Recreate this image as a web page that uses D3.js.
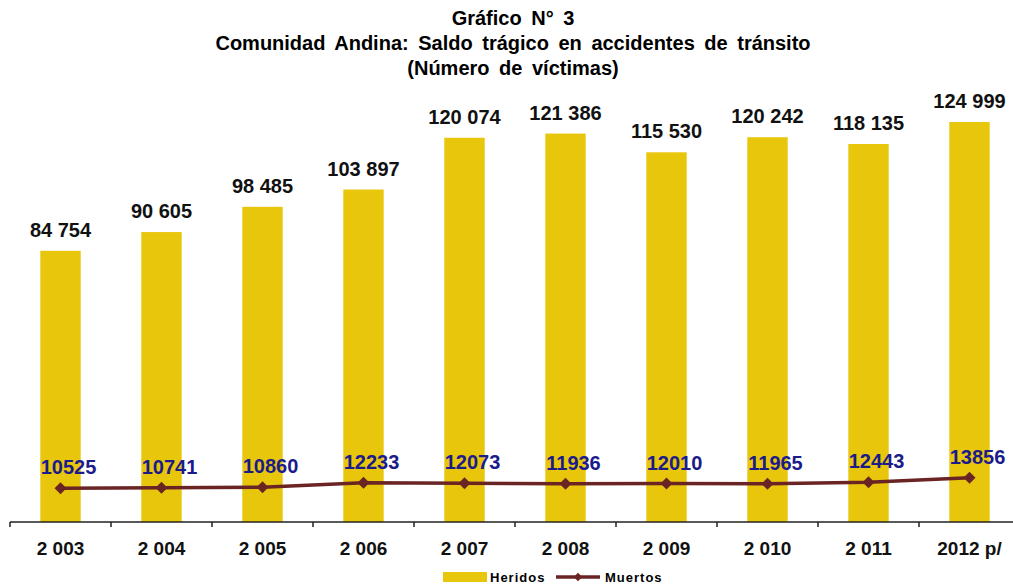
<!DOCTYPE html>
<html>
<head>
<meta charset="utf-8">
<script src="https://cdn.jsdelivr.net/npm/d3@7"></script>
<style>
  body { margin: 0; background: #fff; }
  svg { font-family: Arial, "Liberation Sans", sans-serif; }
</style>
</head>
<body>
<div id="chart"></div>
<script>
// Datos del gráfico
const anios = ['2 003', '2 004', '2 005', '2 006', '2 007', '2 008', '2 009', '2 010', '2 011', '2012 p/'];
const heridos = [84754, 90605, 98485, 103897, 120074, 121386, 115530, 120242, 118135, 124999];
const muertos = [10525, 10741, 10860, 12233, 12073, 11936, 12010, 11965, 12443, 13856];
const titulo = ['Gráfico N° 3', 'Comunidad Andina: Saldo trágico en accidentes de tránsito', '(Número de víctimas)'];

const width = 1013, height = 585;
const colorBarra = '#E8C60C';
const colorLinea = '#6A2424';
const colorMuertos = '#1B1B8A';

const svg = d3.select('#chart').append('svg')
    .attr('width', width)
    .attr('height', height);

// Escalas
const x = d3.scaleBand()
    .domain(anios)
    .range([10, 1020])
    .padding(0);

const y = d3.scaleLinear()
    .domain([0, 140000])
    .range([522, 74]);

const fmt = d3.formatLocale({ decimal: ',', thousands: ' ', grouping: [3], currency: ['', ''] }).format(',d');

// Título
svg.append('g').selectAll('text')
    .data(titulo)
    .enter().append('text')
    .attr('x', 513)
    .attr('y', (d, i) => 25 + i * 25)
    .attr('text-anchor', 'middle')
    .attr('font-size', '20px')
    .attr('font-weight', 'bold')
    .attr('word-spacing', '4px')
    .text(d => d);

// Barras (Heridos)
const bw = x.bandwidth() * 0.4;
svg.append('g').selectAll('rect')
    .data(heridos)
    .enter().append('rect')
    .attr('x', (d, i) => x(anios[i]) + x.bandwidth() / 2 - bw / 2)
    .attr('y', d => y(d))
    .attr('width', bw)
    .attr('height', d => y(0) - y(d))
    .attr('fill', colorBarra);

svg.append('g').selectAll('text')
    .data(heridos)
    .enter().append('text')
    .attr('x', (d, i) => x(anios[i]) + x.bandwidth() / 2)
    .attr('y', d => y(d) - 14)
    .attr('text-anchor', 'middle')
    .attr('font-size', '20px')
    .attr('font-weight', 'bold')
    .attr('fill', '#111')
    .text(d => fmt(d));

// Eje X
const eje = svg.append('g');
eje.append('line')
    .attr('x1', 10).attr('x2', width)
    .attr('y1', y(0)).attr('y2', y(0))
    .attr('stroke', '#222').attr('stroke-width', 1.5);
eje.selectAll('.tick')
    .data(anios)
    .enter().append('line')
    .attr('x1', d => x(d)).attr('x2', d => x(d))
    .attr('y1', y(0)).attr('y2', y(0) + 5)
    .attr('stroke', '#222').attr('stroke-width', 1.5);
eje.selectAll('text')
    .data(anios)
    .enter().append('text')
    .attr('x', d => x(d) + x.bandwidth() / 2)
    .attr('y', 555)
    .attr('text-anchor', 'middle')
    .attr('font-size', '19px')
    .attr('font-weight', 'bold')
    .attr('fill', '#111')
    .text(d => d);

// Línea (Muertos)
const cx = i => x(anios[i]) + x.bandwidth() / 2;
const linea = d3.line()
    .x((d, i) => cx(i))
    .y(d => y(d));

svg.append('path')
    .datum(muertos)
    .attr('d', linea)
    .attr('fill', 'none')
    .attr('stroke', colorLinea)
    .attr('stroke-width', 3.5);

const diamante = d3.symbol().type(d3.symbolSquare).size(72);
svg.append('g').selectAll('path')
    .data(muertos)
    .enter().append('path')
    .attr('d', diamante)
    .attr('transform', (d, i) => `translate(${cx(i)},${y(d)}) rotate(45)`)
    .attr('fill', colorLinea);

svg.append('g').selectAll('text')
    .data(muertos)
    .enter().append('text')
    .attr('x', (d, i) => cx(i) + 8)
    .attr('y', d => y(d) - 14)
    .attr('text-anchor', 'middle')
    .attr('font-size', '20px')
    .attr('font-weight', 'bold')
    .attr('fill', colorMuertos)
    .text(d => d);

// Leyenda
const ley = svg.append('g');
ley.append('rect')
    .attr('x', 443).attr('y', 572)
    .attr('width', 44).attr('height', 10)
    .attr('fill', colorBarra);
ley.append('text')
    .attr('x', 490).attr('y', 582)
    .attr('font-size', '13px').attr('font-weight', 'bold')
    .attr('letter-spacing', '1px')
    .text('Heridos');
ley.append('line')
    .attr('x1', 556).attr('x2', 600)
    .attr('y1', 577).attr('y2', 577)
    .attr('stroke', colorLinea).attr('stroke-width', 3.5);
ley.append('path')
    .attr('d', d3.symbol().type(d3.symbolSquare).size(36))
    .attr('transform', 'translate(578,577) rotate(45)')
    .attr('fill', colorLinea);
ley.append('text')
    .attr('x', 605).attr('y', 582)
    .attr('font-size', '13px').attr('font-weight', 'bold')
    .attr('letter-spacing', '1px')
    .text('Muertos');
</script>
</body>
</html>
